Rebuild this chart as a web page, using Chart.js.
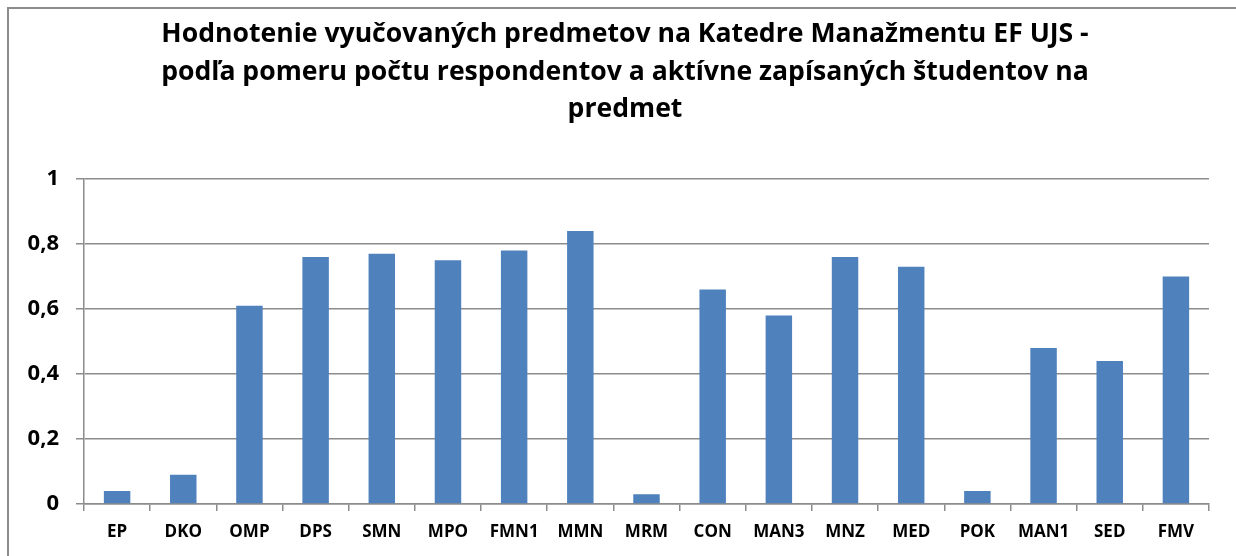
<!DOCTYPE html>
<html>
<head>
<meta charset="utf-8">
<script src="https://cdn.jsdelivr.net/npm/chart.js@4.4.1/dist/chart.umd.min.js"></script>
<style>
  html, body { margin: 0; padding: 0; background: #fff; }
  #wrap { position: relative; width: 1236px; height: 556px; }
</style>
</head>
<body>
<div id="wrap"><canvas id="c" width="1236" height="556"></canvas></div>
<script>
const TITLE_LINES = [
  'Hodnotenie vyučovaných predmetov na Katedre Manažmentu EF UJS -',
  'podľa pomeru počtu respondentov a aktívne zapísaných študentov na',
  'predmet'
];
const CATEGORIES = ['EP','DKO','OMP','DPS','SMN','MPO','FMN1','MMN','MRM','CON','MAN3','MNZ','MED','POK','MAN1','SED','FMV'];
const VALUES = [0.04, 0.09, 0.61, 0.76, 0.77, 0.75, 0.78, 0.84, 0.03, 0.66, 0.58, 0.76, 0.73, 0.04, 0.48, 0.44, 0.70];
const Y_MIN = 0, Y_MAX = 1, Y_STEP = 0.2;

const FONT = '"Open Sans", Lato, sans-serif';

const frame = {
  id: 'frame',
  beforeDraw(chart) {
    const ctx = chart.ctx;
    ctx.save();
    ctx.fillStyle = '#fff';
    ctx.fillRect(0, 0, chart.width, chart.height);
    ctx.strokeStyle = '#8c8c8c';
    ctx.lineWidth = 2;
    ctx.beginPath();
    ctx.moveTo(8, chart.height + 5);
    ctx.lineTo(8, 8);
    ctx.lineTo(chart.width + 5, 8);
    ctx.stroke();
    ctx.restore();
  }
};

const titleBlock = {
  id: 'titleBlock',
  afterDraw(chart) {
    const ctx = chart.ctx;
    ctx.save();
    ctx.fillStyle = '#000';
    ctx.font = 'bold 26.6px ' + FONT;
    ctx.textAlign = 'center';
    ctx.textBaseline = 'alphabetic';
    const cx = 625, first = 42, step = 37.5;
    TITLE_LINES.forEach((line, i) => ctx.fillText(line, cx, first + i * step));
    ctx.restore();
  }
};

new Chart(document.getElementById('c'), {
  type: 'bar',
  data: {
    labels: CATEGORIES,
    datasets: [{
      data: VALUES,
      backgroundColor: '#4F81BD',
      borderWidth: 0,
      barPercentage: 0.4,
      categoryPercentage: 1.0
    }]
  },
  options: {
    responsive: false,
    animation: false,
    devicePixelRatio: 1,
    layout: { padding: { left: 0, right: 27, top: 179, bottom: 0 } },
    plugins: {
      legend: { display: false },
      tooltip: { enabled: false },
      title: { display: false }
    },
    scales: {
      x: {
        offset: true,
        grid: {
          display: true,
          offset: true,
          drawOnChartArea: false,
          drawTicks: true,
          tickLength: 7,
          color: '#8c8c8c',
          lineWidth: 1.5
        },
        border: { display: true, color: '#8c8c8c', width: 1.5 },
        ticks: {
          color: '#000',
          font: { family: FONT, size: 17, weight: 'bold' },
          padding: 11,
          maxRotation: 0,
          autoSkip: false
        },
        afterFit(scale) { scale.height = 52; }
      },
      y: {
        min: Y_MIN,
        max: Y_MAX,
        ticks: {
          stepSize: Y_STEP,
          color: '#000',
          font: { family: FONT, size: 22, weight: 'bold' },
          padding: 17,
          callback: (v) => Number(v.toFixed(1)).toString().replace('.', ',')
        },
        grid: {
          color: '#8c8c8c',
          lineWidth: 1.5,
          tickLength: 8
        },
        border: { display: true, color: '#8c8c8c', width: 1.5 },
        afterFit(scale) { scale.width = 84; }
      }
    }
  },
  plugins: [frame, titleBlock]
});
</script>
</body>
</html>
